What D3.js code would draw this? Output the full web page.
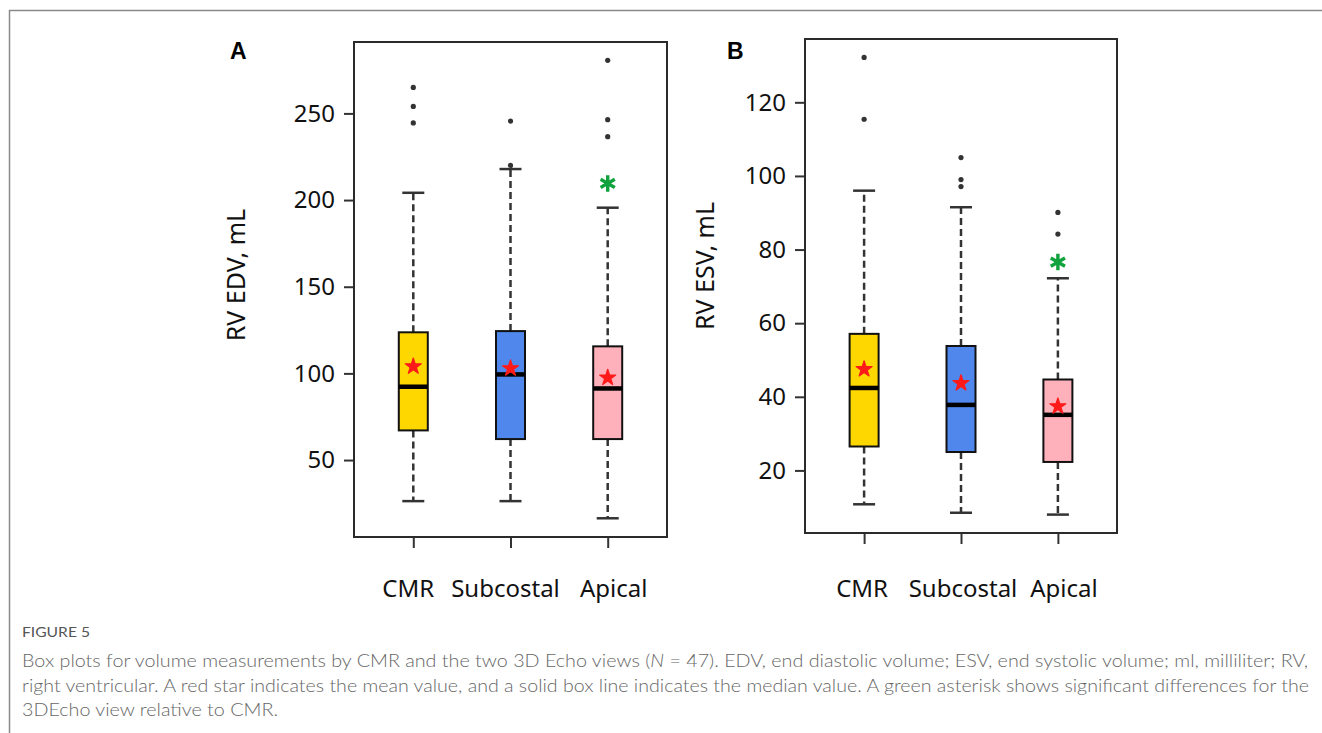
<!DOCTYPE html>
<html>
<head>
<meta charset="utf-8">
<script src="https://cdn.jsdelivr.net/npm/d3@7"></script>
<style>
  body { margin: 0; background: #fff; }
  svg { display: block; }
</style>
</head>
<body>
<div id="chart"></div>
<script>
// categories
var groups = ["CMR", "Subcostal", "Apical"];

// panel A : RV EDV (mL)
var edvLow     = [26.3, 26.3, 16.4];
var edvQ1      = [67.1, 62.1, 62.1];
var edvMedian  = [92.3, 99.4, 91.3];
var edvQ3      = [123.7, 124.4, 115.6];
var edvHigh    = [204.2, 217.9, 195.6];
var edvMean    = [104.0, 102.9, 97.5];
var edvOutliers = [[265, 254, 244.5], [245.6, 220], [280.6, 246.4, 236.6]];
var edvSignif  = [null, null, 209.6];   // where the green asterisk sits
var edvTicks   = [50, 100, 150, 200, 250];

// panel B : RV ESV (mL)
var esvLow     = [10.8, 8.5, 8.0];
var esvQ1      = [26.5, 25.0, 22.3];
var esvMedian  = [42.4, 37.8, 35.1];
var esvQ3      = [57.1, 53.8, 44.7];
var esvHigh    = [96.0, 91.5, 72.2];
var esvMean    = [47.5, 43.7, 37.4];
var esvOutliers = [[132.2, 115.4], [105.0, 99.0, 97.1], [90.1, 84.2]];
var esvSignif  = [null, null, 76.6];
var esvTicks   = [20, 40, 60, 80, 100, 120];

(function(){
  var width = 1322,
    height = 733;

  var svg = d3.select("#chart")
    .append("svg")
    .attr("width", width)
    .attr("height", height);

  var fill = d3.scaleOrdinal().domain(groups).range(["#ffd700", "#4f87ec", "#ffb1bb"]);
  var font = "'Noto Sans', 'Open Sans', sans-serif";

  // figure frame (top + left rule)
  svg.append("path")
    .attr("d", "M9.5,733 V10.5 H1322")
    .attr("fill", "none")
    .attr("stroke", "#8a8a8a")
    .attr("stroke-width", 1.5);

  function panel(p) {
    var g = svg.append("g");

    var y = d3.scaleLinear().domain(p.domain).range([p.bottom, p.top]);
    var x = d3.scalePoint().domain(groups).range([p.left, p.right]).padding(0.61);

    var rows = groups.map(function(name, i){
      return {name: name, low: p.low[i], q1: p.q1[i], med: p.median[i], q3: p.q3[i],
              high: p.high[i], mean: p.mean[i], out: p.outliers[i], sig: p.signif[i]};
    });

    // y axis, ticks sit outside the frame
    var yAxis = g.append("g")
      .attr("transform", "translate(" + p.left + ",0)")
      .call(d3.axisLeft(y).tickValues(p.ticks).tickSize(10).tickPadding(9));
    yAxis.select(".domain").remove();
    yAxis.selectAll("line").attr("stroke", "#333").attr("stroke-width", 2);
    yAxis.selectAll("text").attr("font-family", font).attr("font-size", 24).attr("fill", "#111");

    // x axis ticks only
    var xAxis = g.append("g")
      .attr("transform", "translate(0," + p.bottom + ")")
      .call(d3.axisBottom(x).tickSize(11).tickFormat(""));
    xAxis.select(".domain").remove();
    xAxis.selectAll("line").attr("stroke", "#333").attr("stroke-width", 2);

    g.selectAll(".xlab")
      .data(groups)
      .enter().append("text")
      .attr("class", "xlab")
      .attr("x", function(d){ return x(d) + p.labShift[groups.indexOf(d)]; })
      .attr("y", 597)
      .attr("text-anchor", "middle")
      .attr("font-family", font)
      .attr("font-size", 24)
      .attr("fill", "#111")
      .text(function(d){ return d; });

    // plot frame
    g.append("rect")
      .attr("x", p.left).attr("y", p.top)
      .attr("width", p.right - p.left).attr("height", p.bottom - p.top)
      .attr("fill", "none")
      .attr("stroke", "#2b2b2b")
      .attr("stroke-width", 2);

    var bw = 29, cap = 11;
    var box = g.selectAll(".box")
      .data(rows)
      .enter().append("g")
      .attr("class", "box");

    // dashed whiskers
    box.append("line")
      .attr("x1", function(d){ return x(d.name); })
      .attr("x2", function(d){ return x(d.name); })
      .attr("y1", function(d){ return y(d.q3); })
      .attr("y2", function(d){ return y(d.high); })
      .attr("stroke", "#333").attr("stroke-width", 2.5).attr("stroke-dasharray", "7,4");
    box.append("line")
      .attr("x1", function(d){ return x(d.name); })
      .attr("x2", function(d){ return x(d.name); })
      .attr("y1", function(d){ return y(d.q1); })
      .attr("y2", function(d){ return y(d.low); })
      .attr("stroke", "#333").attr("stroke-width", 2.5).attr("stroke-dasharray", "7,4");

    // caps
    ["high", "low"].forEach(function(k){
      box.append("line")
        .attr("x1", function(d){ return x(d.name) - cap; })
        .attr("x2", function(d){ return x(d.name) + cap; })
        .attr("y1", function(d){ return y(d[k]); })
        .attr("y2", function(d){ return y(d[k]); })
        .attr("stroke", "#333").attr("stroke-width", 2.5);
    });

    box.append("rect")
      .attr("x", function(d){ return x(d.name) - bw / 2; })
      .attr("y", function(d){ return y(d.q3); })
      .attr("width", bw)
      .attr("height", function(d){ return y(d.q1) - y(d.q3); })
      .attr("fill", function(d){ return fill(d.name); })
      .attr("stroke", "#111")
      .attr("stroke-width", 2);

    // median
    box.append("line")
      .attr("x1", function(d){ return x(d.name) - bw / 2; })
      .attr("x2", function(d){ return x(d.name) + bw / 2; })
      .attr("y1", function(d){ return y(d.med); })
      .attr("y2", function(d){ return y(d.med); })
      .attr("stroke", "#000").attr("stroke-width", 4.5);

    // mean
    box.append("path")
      .attr("d", d3.symbol(d3.symbolStar, 80))
      .attr("transform", function(d){ return "translate(" + x(d.name) + "," + y(d.mean) + ")"; })
      .attr("fill", "#ff1a1a")
      .attr("stroke", "#ff1a1a")
      .attr("stroke-width", 1.2)
      .attr("stroke-linejoin", "round");

    // outliers
    box.selectAll(".out")
      .data(function(d){ return d.out.map(function(v){ return {name: d.name, v: v}; }); })
      .enter().append("circle")
      .attr("class", "out")
      .attr("cx", function(d){ return x(d.name); })
      .attr("cy", function(d){ return y(d.v); })
      .attr("r", 2.6)
      .attr("fill", "#333");

    // significance asterisk
    box.filter(function(d){ return d.sig != null; })
      .append("path")
      .attr("d", d3.symbol(d3.symbolAsterisk, 190))
      .attr("transform", function(d){ return "translate(" + x(d.name) + "," + y(d.sig) + ")"; })
      .attr("fill", "none")
      .attr("stroke", "#10a23c")
      .attr("stroke-width", 3.4);

    // axis title
    g.append("text")
      .attr("transform", "translate(" + p.titleX + "," + p.titleY + ") rotate(-90)")
      .attr("text-anchor", "middle")
      .attr("font-family", font)
      .attr("font-size", 25)
      .attr("fill", "#111")
      .text(p.title);

    // panel letter
    g.append("text")
      .attr("x", p.letterX).attr("y", 59)
      .attr("font-family", "'Liberation Sans', Arial, sans-serif")
      .attr("font-weight", "bold")
      .attr("font-size", 23)
      .attr("fill", "#000")
      .text(p.letter);
  }

  panel({
    left: 354, right: 667, top: 42, bottom: 537, domain: [5.6, 291.2],
    ticks: edvTicks, low: edvLow, q1: edvQ1, median: edvMedian, q3: edvQ3,
    high: edvHigh, mean: edvMean, outliers: edvOutliers, signif: edvSignif,
    title: "RV EDV, mL", titleX: 245, titleY: 275, letter: "A", letterX: 230,
    labShift: [-5, -5, 6]
  });

  panel({
    left: 805, right: 1117, top: 39, bottom: 533, domain: [3.0, 137.2],
    ticks: esvTicks, low: esvLow, q1: esvQ1, median: esvMedian, q3: esvQ3,
    high: esvHigh, mean: esvMean, outliers: esvOutliers, signif: esvSignif,
    title: "RV ESV, mL", titleX: 714, titleY: 266, letter: "B", letterX: 727,
    labShift: [-2, 2, 6]
  });

  // caption
  var capFont = "Lato, 'Open Sans', sans-serif";
  svg.append("text")
    .attr("x", 22).attr("y", 637)
    .attr("font-family", capFont)
    .attr("font-size", 12.5)
    .attr("fill", "#555")
    .attr("textLength", 68)
    .attr("lengthAdjust", "spacingAndGlyphs")
    .text("FIGURE 5");

  var l1 = svg.append("text")
    .attr("x", 22).attr("y", 667)
    .attr("font-family", capFont).attr("font-weight", 300)
    .attr("font-size", 17).attr("fill", "#666")
    .attr("textLength", 1286).attr("lengthAdjust", "spacingAndGlyphs");
  l1.append("tspan").text("Box plots for volume measurements by CMR and the two 3D Echo views (");
  l1.append("tspan").attr("font-style", "italic").text("N");
  l1.append("tspan").text(" = 47). EDV, end diastolic volume; ESV, end systolic volume; ml, milliliter; RV,");

  svg.append("text")
    .attr("x", 22).attr("y", 692)
    .attr("font-family", capFont).attr("font-weight", 300)
    .attr("font-size", 17).attr("fill", "#666")
    .attr("textLength", 1287).attr("lengthAdjust", "spacingAndGlyphs")
    .text("right ventricular. A red star indicates the mean value, and a solid box line indicates the median value. A green asterisk shows significant differences for the");

  svg.append("text")
    .attr("x", 22).attr("y", 716)
    .attr("font-family", capFont).attr("font-weight", 300)
    .attr("font-size", 17).attr("fill", "#666")
    .attr("textLength", 256).attr("lengthAdjust", "spacingAndGlyphs")
    .text("3DEcho view relative to CMR.");
})();
</script>
</body>
</html>
